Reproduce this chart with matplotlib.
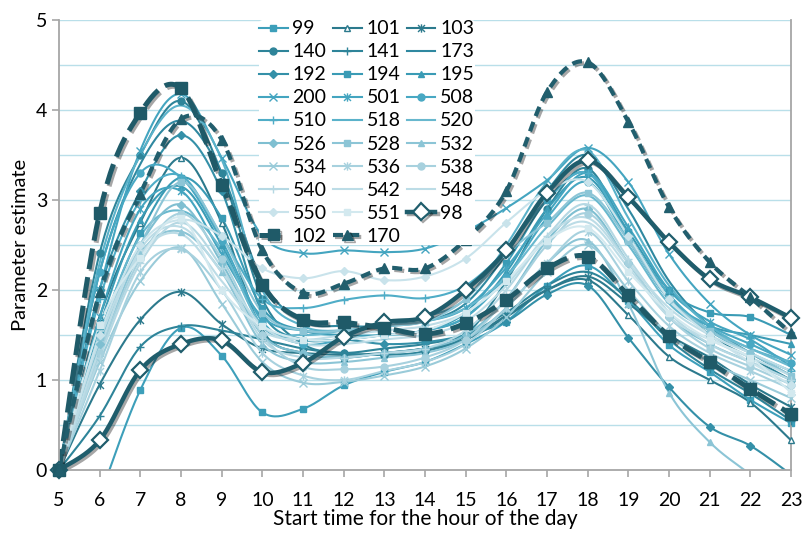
import numpy as np
import matplotlib
matplotlib.use("Agg")
import matplotlib.pyplot as plt
import matplotlib.patheffects as pe
from matplotlib.lines import Line2D
from matplotlib.path import Path

HOURS = list(range(5, 24))

S99 = [np.nan, -0.3, 0.89, 1.58, 1.27, 0.64, 0.68, 0.94, 1.09, 1.2, 1.4, 1.65, 2.05, 2.27, 1.88, 1.39, 1.09, 0.78, 0.52]
S101 = [0, 1.7, 2.75, 3.47, 2.75, 1.55, 1.3, 1.25, 1.3, 1.35, 1.45, 1.72, 2.0, 2.11, 1.72, 1.26, 1.0, 0.75, 0.33]
S103 = [0, 0.95, 1.67, 1.98, 1.62, 1.35, 1.3, 1.28, 1.3, 1.35, 1.45, 1.7, 2.0, 2.15, 1.85, 1.5, 1.25, 0.95, 0.7]
S140 = [0, 2.41, 3.5, 4.1, 3.3, 1.9, 1.4, 1.3, 1.28, 1.32, 1.5, 2.1, 2.9, 3.35, 2.6, 1.95, 1.5, 1.25, 1.0]
S141 = [0, 0.6, 1.37, 1.6, 1.55, 1.45, 1.35, 1.3, 1.35, 1.4, 1.5, 1.75, 2.05, 2.2, 1.9, 1.45, 1.12, 0.85, 0.55]
S173 = [0, 2.2, 3.4, 3.88, 3.3, 2.1, 1.65, 1.6, 1.6, 1.65, 1.85, 2.4, 3.1, 3.5, 2.9, 2.1, 1.6, 1.3, 1.05]
S192 = [0, 2.0, 3.1, 3.72, 3.1, 1.75, 1.45, 1.45, 1.4, 1.42, 1.5, 1.65, 1.95, 2.05, 1.47, 0.92, 0.48, 0.27, -0.05]
S194 = [0, 1.5, 2.63, 3.25, 2.8, 1.8, 1.55, 1.5, 1.5, 1.55, 1.75, 2.3, 3.0, 3.3, 2.65, 2.0, 1.75, 1.7, 1.5]
S195 = [0, 1.6, 2.78, 3.15, 2.5, 1.6, 1.45, 1.45, 1.5, 1.55, 1.7, 2.2, 2.9, 3.25, 2.6, 1.9, 1.6, 1.5, 1.4]
S200 = [0, 2.0, 3.55, 4.18, 3.47, 2.6, 2.41, 2.44, 2.42, 2.46, 2.65, 2.91, 3.22, 3.58, 3.2, 2.4, 1.85, 1.5, 1.28]
S501 = [0, 1.7, 2.9, 3.1, 2.4, 1.7, 1.55, 1.55, 1.6, 1.65, 1.8, 2.25, 2.85, 3.3, 2.7, 2.0, 1.65, 1.45, 1.15]
S508 = [0, 2.2, 3.3, 3.25, 2.55, 1.65, 1.4, 1.45, 1.5, 1.55, 1.7, 2.15, 2.8, 3.2, 2.55, 1.9, 1.6, 1.4, 1.19]
S510 = [0, 1.9, 3.0, 3.27, 2.6, 1.9, 1.8, 1.89, 1.94, 1.91, 2.05, 2.45, 3.0, 3.3, 2.6, 1.95, 1.55, 1.3, 1.1]
S518 = [0, 2.3, 3.5, 4.05, 3.45, 2.0, 1.6, 1.55, 1.6, 1.7, 1.9, 2.5, 3.2, 3.55, 2.8, 2.05, 1.6, 1.35, 1.2]
S520 = [0, 1.5, 2.6, 2.88, 2.45, 1.6, 1.5, 1.55, 1.6, 1.65, 1.8, 2.15, 2.7, 3.05, 2.5, 1.85, 1.55, 1.35, 1.15]
S526 = [0, 1.4, 2.5, 2.95, 2.3, 1.5, 1.3, 1.25, 1.3, 1.35, 1.5, 1.9, 2.55, 2.9, 2.3, 1.7, 1.4, 1.2, 1.0]
S528 = [0, 1.48, 2.5, 3.2, 2.6, 1.75, 1.55, 1.55, 1.6, 1.65, 1.9, 2.4, 2.75, 3.08, 2.55, 1.9, 1.55, 1.3, 1.05]
S532 = [0, 1.3, 2.4, 2.65, 2.2, 1.4, 1.2, 1.2, 1.25, 1.3, 1.45, 1.8, 2.3, 2.55, 1.85, 0.86, 0.31, -0.05, -0.4]
S534 = [0, 1.2, 2.1, 2.47, 1.85, 1.2, 0.97, 0.98, 1.05, 1.15, 1.35, 1.7, 2.2, 2.5, 2.0, 1.5, 1.2, 1.0, 0.8]
S536 = [0, 1.1, 2.2, 2.45, 2.0, 1.3, 1.05, 1.0, 1.1, 1.2, 1.4, 1.8, 2.3, 2.65, 2.1, 1.6, 1.3, 1.1, 0.9]
S538 = [0, 1.3, 2.35, 2.85, 2.35, 1.5, 1.15, 1.12, 1.15, 1.25, 1.45, 1.9, 2.5, 2.85, 2.3, 1.7, 1.35, 1.15, 0.95]
S540 = [0, 1.25, 2.3, 2.75, 2.25, 1.45, 1.25, 1.25, 1.3, 1.35, 1.55, 2.0, 2.6, 2.95, 2.35, 1.75, 1.4, 1.2, 1.0]
S542 = [0, 1.35, 2.45, 2.7, 2.2, 1.6, 1.4, 1.4, 1.45, 1.5, 1.65, 2.05, 2.6, 2.8, 2.3, 1.8, 1.5, 1.3, 1.1]
S548 = [0, 1.45, 2.4, 2.62, 2.1, 1.55, 1.45, 1.5, 1.55, 1.6, 1.75, 2.1, 2.55, 2.75, 2.25, 1.7, 1.45, 1.25, 1.05]
S550 = [0, 1.5, 2.5, 2.78, 2.6, 2.24, 2.13, 2.21, 2.11, 2.15, 2.35, 2.75, 3.1, 3.2, 2.6, 1.9, 1.5, 1.2, 0.95]
S551 = [0, 1.61, 2.36, 2.8, 2.0, 1.6, 1.45, 1.45, 1.5, 1.55, 1.75, 2.1, 2.55, 2.69, 2.2, 1.75, 1.45, 1.25, 0.86]
S98 = [0, 0.33, 1.11, 1.40, 1.44, 1.09, 1.19, 1.48, 1.64, 1.70, 2.0, 2.44, 3.08, 3.44, 3.03, 2.53, 2.12, 1.92, 1.69]
S102 = [0, 2.86, 3.97, 4.24, 3.17, 2.06, 1.67, 1.64, 1.58, 1.51, 1.63, 1.89, 2.24, 2.37, 1.94, 1.49, 1.2, 0.9, 0.62]
S170 = [0, 1.98, 3.07, 3.9, 3.67, 2.44, 1.97, 2.07, 2.24, 2.24, 2.56, 3.1, 4.2, 4.53, 3.87, 2.92, 2.31, 1.92, 1.52]

SERIES = [
    ("99", S99), ("101", S101), ("103", S103), ("140", S140), ("141", S141),
    ("173", S173), ("192", S192), ("194", S194), ("195", S195), ("200", S200),
    ("501", S501), ("508", S508), ("510", S510), ("518", S518), ("520", S520),
    ("526", S526), ("528", S528), ("532", S532), ("534", S534), ("536", S536),
    ("538", S538), ("540", S540), ("542", S542), ("548", S548), ("550", S550),
    ("551", S551), ("98", S98), ("102", S102), ("170", S170),
]

# excel-ish "star" marker: an x with a vertical bar
STAR = Path([(-1, -1), (1, 1), (-1, 1), (1, -1), (0, -1.2), (0, 1.2)],
            [Path.MOVETO, Path.LINETO, Path.MOVETO, Path.LINETO, Path.MOVETO, Path.LINETO])

COLORS = {
    "99": "#3d9fba", "101": "#2c7a8d", "103": "#2c7a8d",
    "140": "#2e8499", "141": "#2e8499", "173": "#2f88a0",
    "192": "#3490a8", "194": "#3a9bb5", "195": "#3a9bb5",
    "200": "#44a5c0", "501": "#44a5c0", "508": "#48a8c3",
    "510": "#4fadc7", "518": "#5ab2ca", "520": "#68b8ce",
    "526": "#7fbfd1", "528": "#8cc5d6", "532": "#8cc5d6",
    "534": "#9acbd9", "536": "#a7d1de", "538": "#a7d1de",
    "540": "#b5d8e3", "542": "#bcdce6", "548": "#bcdce6",
    "550": "#c9e3eb", "551": "#d3e9ef",
    "98": "#1f5d6c", "102": "#1f5a68", "170": "#215e6d",
}

MARKERS = {
    "99": "s", "101": "^", "103": STAR, "140": "o", "141": "+", "173": None,
    "192": "D", "194": "s", "195": "^", "200": "x", "501": STAR, "508": "o",
    "510": "+", "518": None, "520": None, "526": "D", "528": "s", "532": "^",
    "534": "x", "536": STAR, "538": "o", "540": "+", "542": None, "548": None,
    "550": "D", "551": "s", "98": "D", "102": "s", "170": "^",
}

SHADOW = [pe.SimpleLineShadow(offset=(1.5, -1.5), shadow_color="black", alpha=0.35), pe.Normal()]


def smooth(xs, ys, n=24):
    """Excel style smoothed line: cubic bezier with catmull-rom controls."""
    xs = np.asarray(xs, float)
    ys = np.asarray(ys, float)
    out_x, out_y = [], []
    idx = np.where(~np.isnan(ys))[0]
    p = np.column_stack([xs[idx], ys[idx]])
    t = np.linspace(0, 1, n)[:, None]
    for i in range(len(p) - 1):
        p0 = p[i - 1] if i > 0 else p[i]
        p1, p2 = p[i], p[i + 1]
        p3 = p[i + 2] if i + 2 < len(p) else p[i + 1]
        c1 = p1 + (p2 - p0) / 6
        c2 = p2 - (p3 - p1) / 6
        seg = ((1 - t) ** 3) * p1 + 3 * ((1 - t) ** 2) * t * c1 + 3 * (1 - t) * t ** 2 * c2 + t ** 3 * p2
        out_x.extend(seg[:, 0])
        out_y.extend(seg[:, 1])
    return out_x, out_y


def style_for(name):
    color = COLORS[name]
    marker = MARKERS[name]
    st = dict(color=color, lw=1.5, ls="-", marker=marker, ms=5, mfc=color,
              mec=color, mew=1.0, effects=None)
    if marker == "D":
        st["ms"] = 4.5
    if marker in ("x", "+") or marker is STAR:
        st["ms"] = 6
    if name == "101":
        st["mfc"] = "white"
    if name == "98":
        st.update(lw=3.2, ms=8.5, mfc="white", mec=color, mew=1.6, effects=SHADOW)
    if name == "102":
        st.update(lw=3.6, ls=(0, (4.2, 1.6)), ms=8, effects=SHADOW)
    if name == "170":
        st.update(lw=3.0, ls=(0, (2.4, 1.5)), ms=7.5, effects=SHADOW)
    return st


plt.rcParams["font.family"] = ["Lato", "DejaVu Sans"]
fig = plt.figure(figsize=(8.04, 5.34), dpi=100)
ax = fig.add_axes([59 / 804, 1 - 470 / 534, (791 - 59) / 804, (470 - 20) / 534])

ax.set_xlim(5, 23)
ax.set_ylim(0, 5)
for gy in np.arange(0.5, 5.01, 0.5):
    ax.axhline(gy, color="#b9dfe9", lw=1.0, zorder=0)

handles = []
for z, (name, vals) in enumerate(SERIES):
    st = style_for(name)
    sx, sy = smooth(HOURS, vals)
    line, = ax.plot(sx, sy, color=st["color"], lw=st["lw"], ls=st["ls"],
                    zorder=2 + z * 0.01, solid_capstyle="round")
    if st["effects"]:
        line.set_path_effects(st["effects"])
    if st["marker"] is not None:
        mv = np.where(np.asarray(vals, float) >= 0, vals, np.nan)
        ax.plot(HOURS, mv, ls="none", marker=st["marker"], ms=st["ms"],
                mfc=st["mfc"], mec=st["mec"], mew=st["mew"],
                zorder=2.5 + z * 0.01, clip_on=False)
    h = Line2D([], [], color=st["color"], lw=st["lw"], ls=st["ls"],
               marker=st["marker"], ms=st["ms"], mfc=st["mfc"], mec=st["mec"],
               mew=st["mew"])
    if st["effects"]:
        h.set_path_effects(st["effects"])
    handles.append((h, name))

# excel fills legend row by row; matplotlib fills column by column
ncol = 3
nrow = int(np.ceil(len(handles) / ncol))
order = [r * ncol + c for c in range(ncol) for r in range(nrow) if r * ncol + c < len(handles)]
leg = ax.legend([handles[i][0] for i in order], [handles[i][1] for i in order],
                ncol=ncol, loc="upper left", bbox_to_anchor=(259 / 804, 1 - 20 / 534),
                bbox_transform=fig.transFigure, frameon=True, fontsize=14,
                handlelength=1.45, handletextpad=0.25, columnspacing=0.35,
                labelspacing=0.31, borderpad=0.02, borderaxespad=0)
leg.get_frame().set_facecolor("white")
leg.get_frame().set_edgecolor("none")
leg.get_frame().set_alpha(1)
leg.set_zorder(10)

for side in ("left", "bottom", "right"):
    ax.spines[side].set_color("#a6a6a6")
    ax.spines[side].set_linewidth(1.3)
ax.spines["top"].set_visible(False)
ax.set_xticks(HOURS)
ax.set_yticks(range(0, 6))
ax.tick_params(axis="both", colors="#a6a6a6", labelcolor="black", labelsize=14,
               length=5, width=1.2)
ax.tick_params(axis="x", pad=11)
ax.set_xlabel("Start time for the hour of the day", fontsize=15, labelpad=0)
ax.set_ylabel("Parameter estimate", fontsize=14.5, labelpad=5)

fig.savefig("out.png", dpi=100)
